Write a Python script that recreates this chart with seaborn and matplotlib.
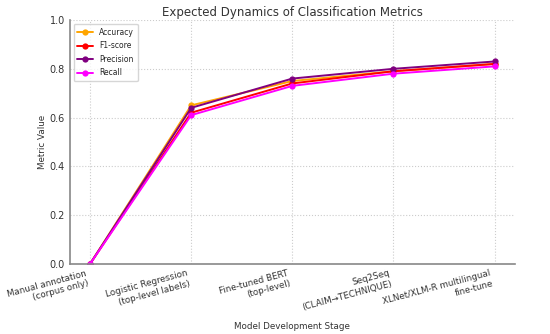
import matplotlib
matplotlib.use("Agg")
import matplotlib.pyplot as plt
import pandas as pd
import seaborn as sns

stages = ["Manual annotation\n(corpus only)",
          "Logistic Regression\n(top-level labels)",
          "Fine-tuned BERT\n(top-level)",
          "Seq2Seq\n(CLAIM→TECHNIQUE)",
          "XLNet/XLM-R multilingual\nfine-tune"]
accuracy = [0.0, 0.65, 0.75, 0.79, 0.82]
f1_score = [0.0, 0.62, 0.74, 0.79, 0.82]
precision = [0.0, 0.64, 0.76, 0.80, 0.83]
recall = [0.0, 0.61, 0.73, 0.78, 0.81]

metrics = {"Accuracy": accuracy, "F1-score": f1_score,
           "Precision": precision, "Recall": recall}
colors = {"Accuracy": "orange", "F1-score": "red",
          "Precision": "purple", "Recall": "magenta"}

rows = []
for name, vals in metrics.items():
    for i, v in enumerate(vals):
        rows.append({"Stage": i, "Metric": name, "Value": v})
df = pd.DataFrame(rows)

sns.set_theme(style="whitegrid")
plt.rcParams["font.family"] = ["DejaVu Sans"]

fig, ax = plt.subplots(figsize=(5.5, 3.34), dpi=100)
sns.lineplot(data=df, x="Stage", y="Value", hue="Metric", palette=colors,
             marker="o", markersize=4.5, markeredgewidth=0, linewidth=1.4, ax=ax)

ax.set_xlim(-0.2, 4.2)
ax.set_ylim(0, 1.0)
ax.set_xticks(range(len(stages)))
ax.set_xticklabels(stages, rotation=15, ha="right", fontsize=6.3, color="#333333")
ax.set_yticks([0.0, 0.2, 0.4, 0.6, 0.8, 1.0])
ax.tick_params(axis="y", labelsize=7, labelcolor="#333333")
ax.tick_params(axis="both", length=2.5, color="#888888", pad=1)
ax.grid(True, linestyle=":", color="#cccccc", linewidth=0.8)
for side in ["top", "right"]:
    ax.spines[side].set_visible(False)
for side in ["left", "bottom"]:
    ax.spines[side].set_color("#888888")
    ax.spines[side].set_linewidth(1.2)

ax.set_title("Expected Dynamics of Classification Metrics", fontsize=8.5, color="#333333", pad=3)
ax.set_xlabel("Model Development Stage", fontsize=6.3, color="#333333")
ax.set_ylabel("Metric Value", fontsize=6.3, color="#333333", labelpad=2)
ax.legend(title=None, loc="upper left", fontsize=5.5, frameon=True,
          handlelength=2.0, borderpad=0.5, labelspacing=0.6)

fig.subplots_adjust(left=0.127, right=0.936, top=0.94, bottom=0.21)
fig.savefig("out.png")
